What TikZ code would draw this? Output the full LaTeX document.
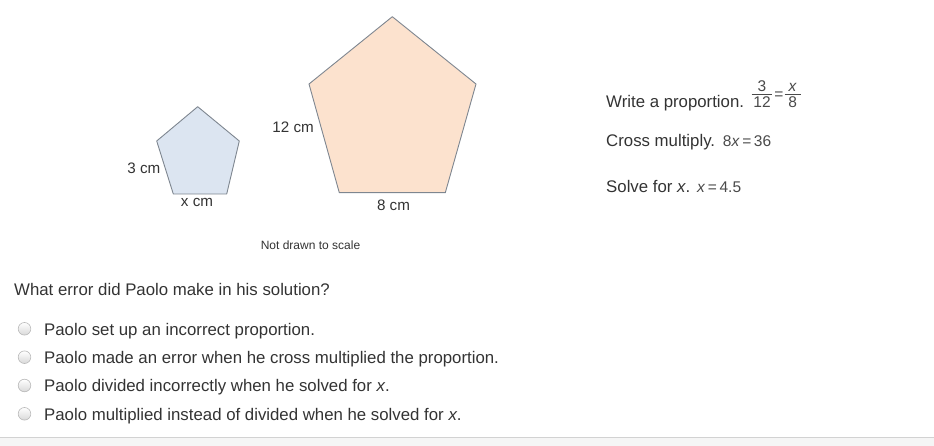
\documentclass[tikz,border=0pt]{standalone}
\usepackage{fontspec}
\usepackage{amsmath}
\setmainfont{Liberation Sans}
\definecolor{txtgray}{HTML}{333333}
\definecolor{mathgray}{HTML}{4A4A4A}
\definecolor{edgegray}{HTML}{7E8690}
\definecolor{smallblue}{HTML}{DCE5F1}
\definecolor{bigpeach}{HTML}{FCE2CE}
\definecolor{footgray}{HTML}{F5F5F5}
\definecolor{rulegray}{HTML}{D2D2D2}

\begin{document}
\begin{tikzpicture}[x=1pt,y=-1pt]
\tikzstyle{every node}+=[inner sep=0pt, text=txtgray]
\tikzstyle{pent}=[draw=edgegray, line width=0.9pt, line join=round]
\tikzstyle{dimlbl}=[font=\fontsize{15.2}{17}\selectfont]
\tikzstyle{bodytxt}=[anchor=base west, font=\fontsize{16.8}{20}\selectfont]
\tikzstyle{mathtxt}=[font=\fontsize{15.5}{18}\selectfont, text=mathgray]
\tikzstyle{radiobtn}=[draw=gray!55, line width=0.6pt, top color=white, bottom color=gray!30]
\useasboundingbox (0,0) rectangle (934,446);
\fill [footgray] (0,437) rectangle (934,446);
\draw [rulegray, line width=0.8pt] (0,437) -- (934,437);
% small pentagon
\coordinate (st) at (197.7,106.7);
\coordinate (sl) at (156.7,141);
\coordinate (sbl) at (173.3,194);
\coordinate (sbr) at (226.7,194);
\coordinate (sr) at (239.3,141);
\draw [pent, fill=smallblue] (st) -- (sl) -- (sbl) -- (sbr) -- (sr) -- cycle;
\node [dimlbl, anchor=base east] (smallside) at (160.5,173.3) {3 cm};
\node [dimlbl, anchor=base] (smallbase) at (197,207) {x cm};
% large pentagon
\coordinate (bt) at (392.3,16.7);
\coordinate (bl) at (309,84);
\coordinate (bbl) at (339.3,192.7);
\coordinate (bbr) at (445.3,192.7);
\coordinate (br) at (476,84);
\draw [pent, fill=bigpeach] (bt) -- (bl) -- (bbl) -- (bbr) -- (br) -- cycle;
\node [dimlbl, anchor=base east] (bigside) at (314,132.7) {12 cm};
\node [dimlbl, anchor=base] (bigbase) at (393.5,210.7) {8 cm};
\node [anchor=base, font=\fontsize{12}{14}\selectfont] (noscale) at (310.5,249.3) {Not drawn to scale};
% worked solution
\node [bodytxt] (step1) at (606,107.3) {Write a proportion.};
\node [mathtxt, anchor=base] (numa) at (762,91.7) {3};
\node [mathtxt, anchor=base] (dena) at (762,107.5) {12};
\draw [mathgray, line width=0.7pt] (751.5,94.2) -- (772,94.2);
\node [mathtxt] (eqa) at (779,95.7) {=};
\node [mathtxt, anchor=base] (numb) at (792.7,91.7) {\textit{x}};
\node [mathtxt, anchor=base] (denb) at (792.7,107.5) {8};
\draw [mathgray, line width=0.7pt] (784.5,94.2) -- (800.5,94.2);
\node [bodytxt] (step2) at (606,146.3) {Cross multiply.};
\node [mathtxt, anchor=base west] (cross) at (722.7,147) {8\textit{x}\,=\,36};
\node [bodytxt] (step3) at (606,192.3) {Solve for \textit{x}.};
\node [mathtxt, anchor=base west] (solve) at (697,192.7) {\textit{x}\,=\,4.5};
% question and choices
\node [bodytxt] (question) at (14,295.7) {What error did Paolo make in his solution?};
\foreach \y/\name/\txt in {335/opta/Paolo set up an incorrect proportion.,
  363.4/optb/Paolo made an error when he cross multiplied the proportion.,
  391.7/optc/Paolo divided incorrectly when he solved for \textit{x}.,
  420/optd/Paolo multiplied instead of divided when he solved for \textit{x}.}
{
\node [bodytxt] (\name) at (44,\y) {\txt};
\shade [radiobtn] (24.5,\y-6.2) circle (6.3);
}
\end{tikzpicture}
\end{document}
